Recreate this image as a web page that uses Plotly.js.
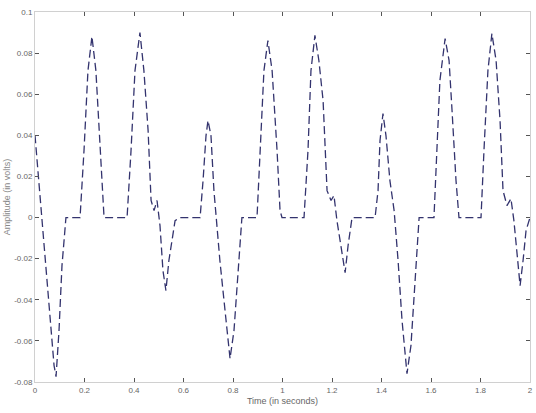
<!DOCTYPE html>
<html>
<head>
<meta charset="utf-8">
<script src="https://cdn.plot.ly/plotly-3.0.1.min.js"></script>
<style>html,body{margin:0;padding:0;background:#fff;}#chart{width:536px;height:413px;}</style>
</head>
<body>
<div id="chart"></div>
<script>
const timeSec = [0,0.028,0.053,0.077,0.085,0.097,0.109,0.125,0.182,0.198,0.214,0.230,0.246,0.263,0.279,0.372,0.388,0.404,0.424,0.440,0.457,0.469,0.481,0.493,0.505,0.517,0.529,0.541,0.554,0.566,0.586,
0.667,0.679,0.691,0.699,0.711,0.723,0.747,0.772,0.788,0.804,0.820,0.836,0.897,0.909,0.925,0.941,0.958,0.978,0.990,0.998,1.087,1.103,1.115,1.131,1.147,1.164,1.180,1.196,1.208,1.220,1.240,1.253,1.265,1.281,1.374,
1.386,1.394,1.406,1.418,1.434,1.451,1.467,1.483,1.503,1.519,1.535,1.552,1.612,1.624,1.636,1.657,1.673,1.685,1.701,1.713,1.802,1.814,1.830,1.846,1.863,1.879,1.891,1.907,1.923,1.935,1.947,1.960,1.972,1.984,2.0];
const amplitude = [0.040,-0.0015,-0.0404,-0.0720,-0.0774,-0.0550,-0.0234,0,0,0.0326,0.0715,0.0881,0.0715,0.0375,0,0,0.0326,0.0715,0.0900,0.0715,0.0423,0.0083,0.0034,0.0083,-0.0039,-0.0258,-0.0355,-0.0209,-0.0112,-0.0015,0,
0,0.0180,0.0399,0.0472,0.0399,0.0131,-0.0209,-0.0501,-0.0686,-0.0550,-0.0258,0,0,0.0326,0.0715,0.0861,0.0715,0.0326,0.0034,0,0,0.0326,0.0715,0.0886,0.0764,0.0569,0.0131,0.0083,0.0107,-0.0015,-0.0161,-0.0268,-0.0136,0,0,
0.0131,0.0375,0.0506,0.0399,0.0180,0.0034,-0.0209,-0.0501,-0.0759,-0.0623,-0.0307,0,0,0.0326,0.0667,0.0871,0.0764,0.0521,0.0180,0,0,0.0326,0.0715,0.0895,0.0764,0.0472,0.0131,0.0058,0.0092,-0.0015,-0.0185,-0.0331,-0.0209,-0.0063,0];
const xTicks = [0,0.2,0.4,0.6,0.8,1,1.2,1.4,1.6,1.8,2];
const xTickLabels = ['0','0.2','0.4','0.6','0.8','1','1.2','1.4','1.6','1.8','2'];
const yTicks = [-0.08,-0.06,-0.04,-0.02,0,0.02,0.04,0.06,0.08,0.1];
const yTickLabels = ['-0.08','-0.06','-0.04','-0.02','0','0.02','0.04','0.06','0.08','0.1'];

const trace = {
  x: timeSec, y: amplitude, type: 'scatter', mode: 'lines',
  line: {color: '#33336e', width: 1.3, dash: '8px,4px'},
  hoverinfo: 'none'
};
const axisCommon = {
  showline: true, linecolor: '#d0d0d0', linewidth: 1, mirror: 'ticks',
  ticks: 'inside', ticklen: 4, tickcolor: '#555', tickwidth: 1,
  showgrid: false, zeroline: false,
  tickfont: {family: 'Liberation Sans, Arial, sans-serif', size: 8, color: '#666'}
};
const layout = {
  width: 536, height: 413,
  margin: {l: 35, r: 6, t: 12, b: 31},
  paper_bgcolor: '#fff', plot_bgcolor: '#fff',
  showlegend: false,
  xaxis: Object.assign({}, axisCommon, {
    range: [0, 2], tickvals: xTicks, ticktext: xTickLabels,
    title: {text: 'Time (in seconds)', font: {family: 'Liberation Sans, Arial, sans-serif', size: 9, color: '#666'}, standoff: 4}
  }),
  yaxis: Object.assign({}, axisCommon, {
    range: [-0.08, 0.1], tickvals: yTicks, ticktext: yTickLabels,
    title: {text: 'Amplitude (in volts)', font: {family: 'Liberation Sans, Arial, sans-serif', size: 9, color: '#888'}, standoff: 2}
  })
};
Plotly.newPlot('chart', [trace], layout, {displayModeBar: false, staticPlot: true});
</script>
</body>
</html>
